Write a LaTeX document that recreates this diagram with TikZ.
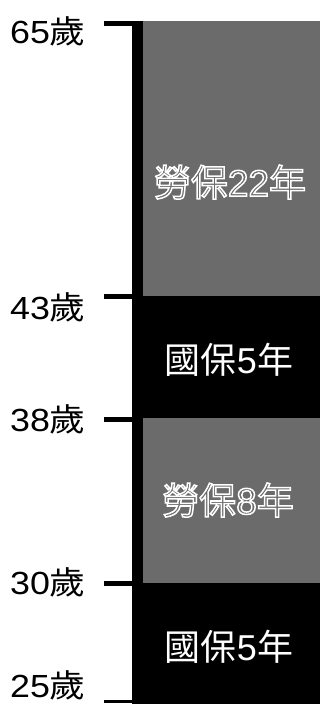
\documentclass[tikz,border=0pt]{standalone}
\usepackage{fontspec}
\setmainfont{Liberation Sans}
\newfontfamily\cjk{Noto Sans CJK TC}
\newfontfamily\widesans{Liberation Sans}[FakeStretch=1.12]
\newfontfamily\widecjk{Noto Sans CJK TC}[FakeStretch=1.12]
\definecolor{halftone}{gray}{0.42}
% white outline round text in halftone
\newcommand{\hollow}[1]{\special{pdf:literal direct 1 1 1 RG 1.5 w 2 Tr}#1\special{pdf:literal direct 0 Tr}}

\begin{document}
\begin{tikzpicture}[x=1pt,y=-1pt]
\tikzstyle{every node}+=[inner sep=0pt]
\tikzstyle{age}=[anchor=east,font=\fontsize{32}{32}\selectfont\widesans]
\tikzstyle{guobao}=[text=white,font=\fontsize{36}{36}\selectfont]
\tikzstyle{laobao}=[text=halftone,font=\fontsize{37}{37}\selectfont]
\tikzstyle{tick}=[line width=5pt]
\useasboundingbox (0,0) rectangle (320,704);
% column
\fill [black] (132,21) rectangle (320,704);
\fill [halftone] (143,21) rectangle (320,296);
\fill [halftone] (143,418) rectangle (320,583);
\coordinate (axis) at (134,0);
% ticks
\coordinate (t65) at (104,23.5);
\coordinate (t43) at (104,296);
\coordinate (t38) at (104,419);
\coordinate (t30) at (104,583);
\coordinate (t25) at (104,701);
\draw [tick] (t65) -- (t65 -| axis);
\draw [tick] (t43) -- (t43 -| axis);
\draw [tick] (t38) -- (t38 -| axis);
\draw [tick] (t30) -- (t30 -| axis);
\draw [line width=3pt] (t25) -- (t25 -| axis);
% ages
\node [age] (a65) at (86,31) {65{\widecjk 歲}};
\node [age] (a43) at (86,307) {43{\widecjk 歲}};
\node [age] (a38) at (86,419) {38{\widecjk 歲}};
\node [age] (a30) at (86,582) {30{\widecjk 歲}};
\node [age] (a25) at (86,685) {25{\widecjk 歲}};
% periods
\node [laobao] (lao22) at (230,182) {\hollow{{\cjk 勞保}22{\cjk 年}}};
\node [guobao] (guo5a) at (229,360) {{\cjk 國保}5{\cjk 年}};
\node [laobao] (lao8) at (228,500) {\hollow{{\cjk 勞保}8{\cjk 年}}};
\node [guobao] (guo5b) at (229,647) {{\cjk 國保}5{\cjk 年}};
\end{tikzpicture}
\end{document}
